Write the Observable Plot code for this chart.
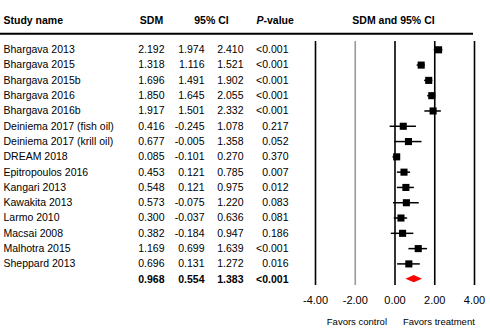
<!DOCTYPE html>
<html>
<head>
<meta charset="utf-8">
<script src="https://cdn.jsdelivr.net/npm/d3@7"></script>
<script src="https://cdn.jsdelivr.net/npm/@observablehq/plot@0.6"></script>
<style>
  html, body { margin: 0; padding: 0; background: #fff; }
  #chart svg { display: block; }
</style>
</head>
<body>
<div id="chart"></div>
<script>
const studies = ["Bhargava 2013","Bhargava 2015","Bhargava 2015b","Bhargava 2016","Bhargava 2016b",
  "Deiniema 2017 (fish oil)","Deiniema 2017 (krill oil)","DREAM 2018","Epitropoulos 2016","Kangari 2013",
  "Kawakita 2013","Larmo 2010","Macsai 2008","Malhotra 2015","Sheppard 2013"];
const sdm   = [2.192,1.318,1.696,1.850,1.917,0.416,0.677,0.085,0.453,0.548,0.573,0.300,0.382,1.169,0.696];
const lower = [1.974,1.116,1.491,1.645,1.501,-0.245,-0.005,-0.101,0.121,0.121,-0.075,-0.037,-0.184,0.699,0.131];
const upper = [2.410,1.521,1.902,2.055,2.332,1.078,1.358,0.270,0.785,0.975,1.220,0.636,0.947,1.639,1.272];
const pvals = ["<0.001","<0.001","<0.001","<0.001","<0.001","0.217","0.052","0.370","0.007","0.012","0.083","0.081","0.186","<0.001","0.016"];
const pooled = {sdm: 0.968, lower: 0.554, upper: 1.383, p: "<0.001"};
const xTicks = [-4, -2, 0, 2, 4];
const favorsLeft = "Favors control";
const favorsRight = "Favors treatment";

const rows = studies.map((name, i) => ({i, name, sdm: sdm[i], lower: lower[i], upper: upper[i], p: pvals[i]}));
const pooledRow = {i: studies.length, name: "", sdm: pooled.sdm, lower: pooled.lower, upper: pooled.upper, p: pooled.p};
const halfH = 0.24;
const diamond = [
  {x: pooled.lower, y1: pooledRow.i, y2: pooledRow.i},
  {x: pooled.sdm, y1: pooledRow.i - halfH, y2: pooledRow.i + halfH},
  {x: pooled.upper, y1: pooledRow.i, y2: pooledRow.i}
];
const f3 = v => v.toFixed(3);
const f2 = v => v.toFixed(2);
const font = "'Liberation Sans', Arial, sans-serif";
const fs = 10.5;

const col = (data, dx, textAnchor, text, weight) => Plot.text(data, {
  y: "i", text, frameAnchor: "left", dx, textAnchor, fontSize: fs,
  fontWeight: weight, fill: "#000"
});
const cols = (data, weight) => [
  col(data, 3, "start", "name", weight),
  col(data, 164, "end", d => f3(d.sdm), weight),
  col(data, 204, "end", d => f3(d.lower), weight),
  col(data, 243, "end", d => f3(d.upper), weight),
  col(data, 288, "end", "p", weight)
];
const head = (label, dx, textAnchor, extra = {}) => Plot.text([label], {
  text: d => d, frameAnchor: "top-left", dx, dy: 20, textAnchor, lineAnchor: "middle",
  fontSize: fs, fontWeight: "bold", fill: "#000", ...extra
});

const chart = Plot.plot({
  width: 490, height: 333,
  marginTop: 0, marginBottom: 0, marginLeft: 0, marginRight: 0,
  x: {domain: [-4, 4], range: [315, 474], axis: null},
  y: {domain: [0, 15], range: [49.3, 278.7], axis: null},
  style: {fontFamily: font, background: "#fff", color: "#000"},
  marks: [
    head("Study name", 3, "start"),
    head("SDM", 151, "middle"),
    head("95% CI", 211, "middle"),
    head("P", 263, "end", {fontStyle: "italic"}),
    head("-value", 263, "start"),
    head("SDM and 95% CI", 393, "middle"),
    Plot.ruleY([0], {y: () => 0, dy: -16, insetRight: 17, stroke: "#000", strokeWidth: 2}),
    Plot.ruleX(xTicks, {x: d => d, insetTop: 41, insetBottom: 48,
      stroke: d => d === -2 ? "#9a9a9a" : "#000", strokeWidth: 1.6}),
    ...cols(rows, "normal"),
    ...cols([pooledRow], "bold"),
    Plot.ruleY(rows, {y: "i", x1: "lower", x2: "upper", stroke: "#000", strokeWidth: 1.5}),
    Plot.dot(rows, {x: "sdm", y: "i", symbol: "square", r: 4, fill: "#000", stroke: "none"}),
    Plot.areaY(diamond, {x: "x", y1: "y1", y2: "y2", fill: "#ff0000", curve: "linear"}),
    Plot.text(xTicks, {x: d => d, text: f2, frameAnchor: "bottom", dy: -33, lineAnchor: "middle", fontSize: 11, fill: "#000"}),
    Plot.text([favorsLeft], {x: () => 0, text: d => d, frameAnchor: "bottom", dy: -12, lineAnchor: "middle",
      dx: -8, textAnchor: "end", fontSize: 9.5, fill: "#000"}),
    Plot.text([favorsRight], {x: () => 0, text: d => d, frameAnchor: "bottom", dy: -12, lineAnchor: "middle",
      dx: 8, textAnchor: "start", fontSize: 9.5, fill: "#000"})
  ]
});
document.getElementById("chart").appendChild(chart);
</script>
</body>
</html>
